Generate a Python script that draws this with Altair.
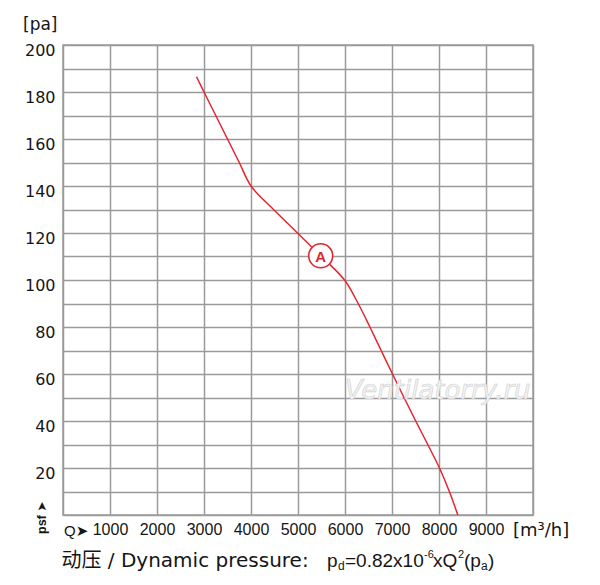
import altair as alt
import pandas as pd

# ---- data ----
flow_q = [2840, 3000, 3250, 3500, 3750, 4000, 4480, 4990, 5483, 5990,
          6280, 6530, 6770, 7010, 7255, 7505, 7760, 8010, 8220, 8400]
pressure = [186.5, 180, 170, 160, 150, 140, 130, 120, 110.3, 100,
            90, 80, 70, 60, 50, 40, 30, 20, 10, 0]

marker_q = [5483]
marker_p = [110.3]
marker_label = ["A"]

x_ticks = list(range(0, 10001, 1000))
y_ticks = list(range(0, 201, 10))

RED = "#e3262f"
GRID = "#9a9a9a"
INK = "#151515"
SANS = "Liberation Sans, Arial, Helvetica, DejaVu Sans, sans-serif"
WIDE = "DejaVu Sans, Noto Sans CJK SC, sans-serif"

curve_df = pd.DataFrame({"Q": flow_q, "P": pressure})
marker_df = pd.DataFrame({"Q": marker_q, "P": marker_p, "label": marker_label})

x_axis = alt.Axis(values=x_ticks, title=None, ticks=False, domain=False,
                  labelExpr="datum.value == 0 || datum.value == 10000 ? '' : datum.label",
                  labelFont=SANS, labelFontSize=16, labelColor=INK,
                  labelPadding=6, labelOverlap=False, labelFlush=False,
                  format="d", grid=True)
y_axis = alt.Axis(values=y_ticks, title=None, ticks=False, domain=False,
                  labelExpr="datum.value % 20 == 0 && datum.value > 0 ? datum.label : ''",
                  labelFont="DejaVu Sans", labelFontSize=16, labelColor=INK,
                  labelPadding=8, labelOffset=5, labelOverlap=False,
                  labelFlush=False, grid=True)
x_enc = alt.X("Q:Q", scale=alt.Scale(domain=[0, 10000], nice=False), axis=x_axis)
y_enc = alt.Y("P:Q", scale=alt.Scale(domain=[0, 200], nice=False), axis=y_axis)

curve = alt.Chart(curve_df).mark_line(color=RED, strokeWidth=1.5,
                                      interpolate="catmull-rom").encode(x=x_enc, y=y_enc)

marker = alt.Chart(marker_df).mark_point(shape="circle", size=576, filled=False,
                                         fill="white", fillOpacity=1, stroke=RED,
                                         strokeWidth=1.6, opacity=1).encode(
    x=x_enc, y=y_enc)
marker_text = alt.Chart(marker_df).mark_text(color=RED, fontSize=15, font=SANS,
                                             fontWeight="bold", baseline="middle",
                                             align="center", dy=1).encode(
    x=x_enc, y=y_enc, text="label:N")


def note(text, x, y, size, font=SANS, **kw):
    return alt.Chart(alt.Data(values=[{}])).mark_text(
        text=text, align=kw.pop("align", "left"), baseline=kw.pop("baseline", "alphabetic"),
        fontSize=size, font=font, color=kw.pop("color", INK), **kw
    ).encode(x=alt.value(x), y=alt.value(y))


# plot origin is at page (63, 45)
notes = [
    note("[pa]", -40, -15.5, 17, font="DejaVu Sans"),
    note("[m\u00b3/h]", 450, 491, 18, font="DejaVu Sans"),
    note("Q\u27a4", 1, 491, 15, font="Liberation Sans, DejaVu Sans"),
    note("psf \u27a4", -17, 489, 12.5, font="Liberation Sans, DejaVu Sans",
         angle=270, fontWeight="bold"),
    note("Ventilatorry.ru", 282, 354, 26, font="DejaVu Sans", fontStyle="italic",
         color="#f4f4f4", stroke="#cfcfcf", strokeWidth=0.6),
    # caption
    note("\u52a8\u538b / Dynamic pressure:", -1.5, 522, 20, font=WIDE),
    note("p", 264, 522, 19),
    note("d", 275, 525, 12),
    note("=0.82x10", 282, 522, 19),
    note("-6", 361, 513, 11),
    note("xQ", 370, 522, 19),
    note("2", 395, 513, 11),
    note("(p", 401, 522, 19),
    note("a", 418, 525, 12),
    note(")", 425, 522, 19),
]

chart = alt.layer(curve, marker, marker_text, *notes).properties(
    width=470, height=470,
    padding={"left": 55, "top": 37, "right": 50, "bottom": 66},
    autosize=alt.AutoSizeParams(type="none"),
    background="white",
).configure_axis(
    gridColor=GRID, gridWidth=1.5, gridOpacity=1
).configure_view(
    stroke=GRID, strokeWidth=1.5
)

chart.save("out.html", embed_options={"renderer": "svg", "actions": False})
